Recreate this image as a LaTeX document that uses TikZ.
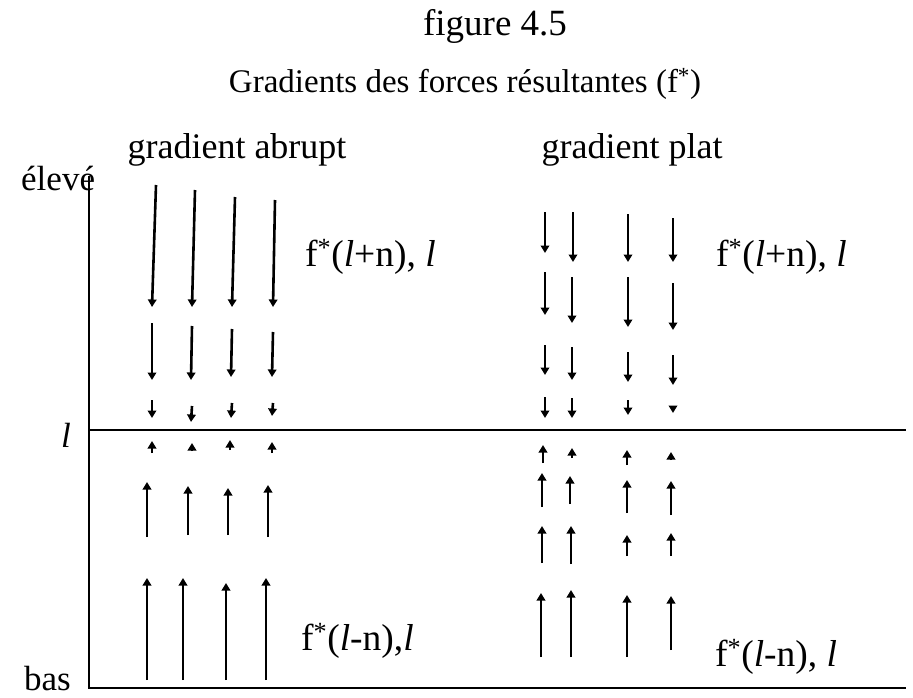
\documentclass[tikz,border=0pt]{standalone}
\usepackage{fontspec}
\setmainfont{Liberation Serif}
\usetikzlibrary{arrows.meta}
\begin{document}
\begin{tikzpicture}[x=1pt,y=-1pt,
  lbl/.style={inner sep=0pt,font=\fontsize{35}{38}\selectfont},
  flbl/.style={inner sep=0pt,anchor=base west,font=\fontsize{37.5}{40}\selectfont},
  head/.style={inner sep=0pt,font=\fontsize{36}{40}\selectfont},
  axisline/.style={line width=2.6pt},
  vec/.style={line width=2.6pt,-{Triangle[length=7.5pt,width=8.5pt]}}]
\useasboundingbox (0,0) rectangle (913,698);
% titles
\node[head,anchor=base,font=\fontsize{37}{40}\selectfont] (fig) at (495,36) {figure 4.5};
\node[head,anchor=base,font=\fontsize{33}{36}\selectfont] (title) at (465,93) {Gradients des forces résultantes (f\textsuperscript{*})};
\node[head,anchor=base] (ga) at (237,158) {gradient abrupt};
\node[head,anchor=base] (gp) at (632,158) {gradient plat};
\node[lbl,anchor=base west] (elev) at (21,190) {élevé};
\node[lbl,anchor=base] (lmark) at (66,447) {\textit{l}};
\node[lbl,anchor=base west] (bas) at (24,690) {bas};
% axes
\coordinate (top) at (89,176);
\coordinate (orig) at (89,688);
\coordinate (xend) at (906,688);
\coordinate (ml) at (89,430);
\coordinate (mr) at (906,430);
\draw[axisline] (top) -- (orig) -- (xend);
\draw[axisline] (ml) -- (mr);
% labels
\node[flbl] (lpn1) at (305,266) {f\textsuperscript{*}(\textit{l}+n), \textit{l}};
\node[flbl] (lpn2) at (716,266) {f\textsuperscript{*}(\textit{l}+n), \textit{l}};
\node[flbl] (lmn1) at (301,650) {f\textsuperscript{*}(\textit{l}-n),\textit{l}};
\node[flbl] (lmn2) at (715,666) {f\textsuperscript{*}(\textit{l}-n), \textit{l}};
% left: gradient abrupt, downward
\foreach \xa/\xb/\ya/\yb in {156/152/185/307, 195/192/190/307, 235/232/197/307, 275/273/200/307,
  152/152/323/380, 192/191/326/380, 232/231/329/377, 273/272/332/377,
  152/152/400/418, 192/191/406/422, 232/231/403/418, 273/272/403/416}
  \draw[vec] (\xa,\ya) -- (\xb,\yb);
% left: upward
\foreach \x/\ya/\yb in {152/453/441, 192/451/443, 230/450/440, 272/453/442,
  147/537/482, 188/535/486, 228/535/488, 268/537/485,
  147/680/578, 183/680/578, 226/680/583, 266/680/578}
  \draw[vec] (\x,\ya) -- (\x,\yb);
% right: gradient plat, downward
\foreach \x/\ya/\yb in {545/212/253, 573/212/262, 628/214/262, 673/218/262,
  545/272/315, 572/277/323, 628/277/327, 673/283/330,
  545/345/375, 572/347/380, 628/352/382, 673/355/385,
  545/397/418, 572/398/418, 628/400/415, 673/406/413}
  \draw[vec] (\x,\ya) -- (\x,\yb);
% right: upward
\foreach \x/\ya/\yb in {543/463/445, 572/458/448, 627/465/450, 671/460/452,
  542/507/473, 570/504/476, 627/513/480, 671/515/481,
  542/563/526, 571/564/526, 627/556/535, 671/556/533,
  541/657/593, 571/657/590, 627/657/595, 671/650/596}
  \draw[vec] (\x,\ya) -- (\x,\yb);
\end{tikzpicture}
\end{document}
